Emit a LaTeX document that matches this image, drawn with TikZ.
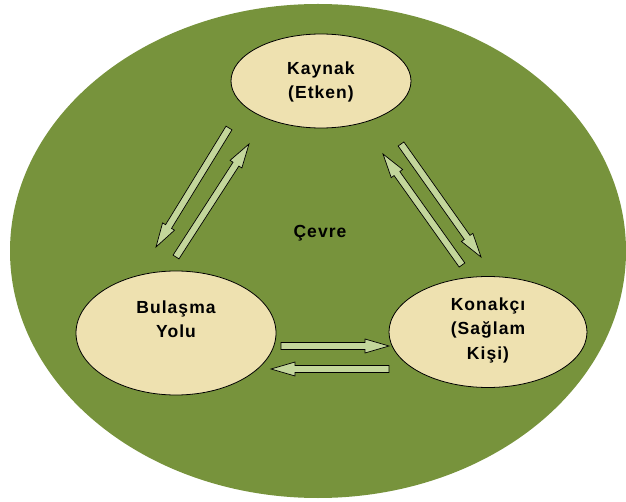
\documentclass[tikz,border=0pt]{standalone}
\usepackage{fontspec}
\setmainfont{Liberation Sans}[LetterSpace=6]
\usetikzlibrary{shapes.geometric,calc}
\definecolor{envgreen}{HTML}{77933C}
\definecolor{bubblefill}{HTML}{EEE1B0}
\definecolor{arrowfill}{HTML}{C3D69B}
\tikzset{
  bubble/.style={ellipse, draw=black, line width=0.8pt, fill=bubblefill, inner sep=0pt},
  txt/.style={align=center, font=\bfseries\fontsize{17.5}{24.5}\selectfont, text=black},
  blockarrowstyle/.style={draw=black, line width=0.7pt, fill=arrowfill, line join=miter}
}
\newcommand\blockarr[2]{%
  \path[blockarrowstyle] let \p1=(#1), \p2=(#2),
    \n1={atan2(\y2-\y1,\x2-\x1)}, \n2={veclen(\x2-\x1,\y2-\y1)} in
    [shift={(\p1)}, rotate=\n1]
    (0,-3.5) -- ({\n2-24},-3.5) -- ({\n2-24},-7) -- (\n2,0) -- ({\n2-24},7)
    -- ({\n2-24},3.5) -- (0,3.5) -- cycle;}
\begin{document}
\begin{tikzpicture}[x=1pt,y=-1pt]
\useasboundingbox (0,0) rectangle (626,502);
\node[ellipse, fill=envgreen, minimum width=616, minimum height=494, inner sep=0pt] (env) at (318,251) {};
\node[txt] (cevre) at (320,233) {Çevre};
\node[bubble, minimum width=180, minimum height=94] (kay) at (321,81) {};
\node[txt] (kaytxt) at (321,82) {Kaynak\\(Etken)};
\node[bubble, minimum width=200, minimum height=124] (bul) at (176,333) {};
\node[txt] (bultxt) at (176,319) {Bulaşma\\Yolu};
\node[bubble, minimum width=198, minimum height=111] (kon) at (488,332) {};
\node[txt] (kontxt) at (488,330) {Konakçı\\(Sağlam\\Kişi)};
% arrow end points
\coordinate (a1s) at (229,128); \coordinate (a1e) at (156,247);
\coordinate (a2s) at (176,257); \coordinate (a2e) at (249,144);
\coordinate (a3s) at (401,144); \coordinate (a3e) at (481,257);
\coordinate (a4s) at (462,265); \coordinate (a4e) at (383,154);
\coordinate (a5s) at (281,346); \coordinate (a5e) at (389,346);
\coordinate (a6s) at (389,369); \coordinate (a6e) at (271,369);
\blockarr{a1s}{a1e}
\blockarr{a2s}{a2e}
\blockarr{a3s}{a3e}
\blockarr{a4s}{a4e}
\blockarr{a5s}{a5e}
\blockarr{a6s}{a6e}
\end{tikzpicture}
\end{document}
